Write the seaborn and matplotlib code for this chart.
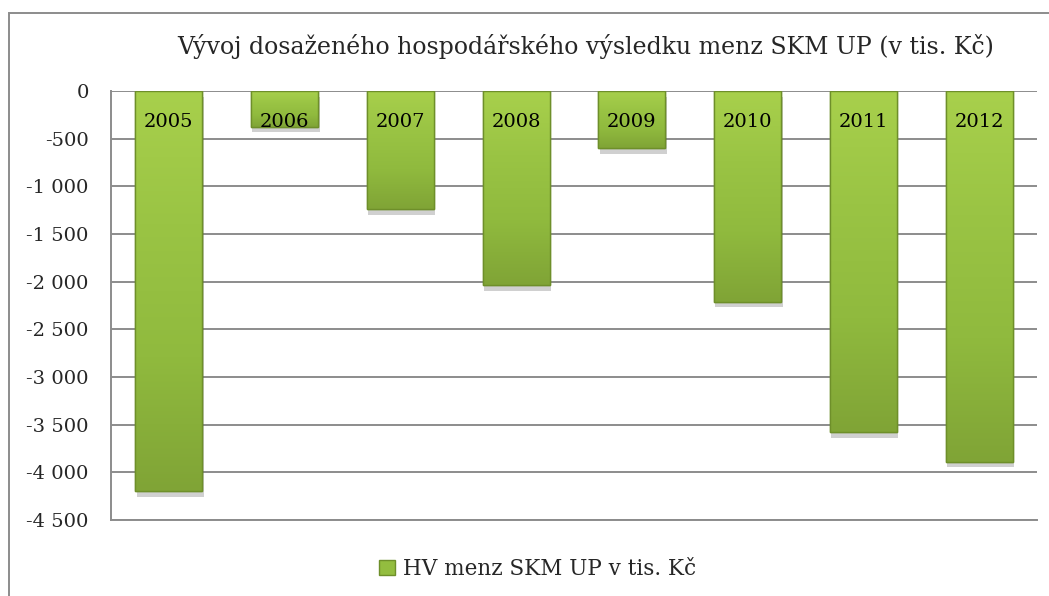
import numpy as np
import pandas as pd
import matplotlib
matplotlib.use('Agg')
import matplotlib.pyplot as plt
import matplotlib.patheffects as pe
from matplotlib.patches import Rectangle, Patch
from matplotlib.colors import LinearSegmentedColormap
from matplotlib.ticker import FuncFormatter
import seaborn as sns

years = ['2005', '2006', '2007', '2008', '2009', '2010', '2011', '2012']
hv = [-4200, -375, -1240, -2040, -600, -2210, -3580, -3890]
title = 'Vývoj dosaženého hospodářského výsledku menz SKM UP (v tis. Kč)'
series_name = 'HV menz SKM UP v tis. Kč'

df = pd.DataFrame({'rok': years, 'hv': hv})

sns.set_style('white')
FONT = ['DejaVu Serif']
plt.rcParams['font.family'] = FONT
plt.rcParams['font.serif'] = ['DejaVu Serif']

fig = plt.figure(figsize=(10.49, 5.96), dpi=100)
ax = fig.add_axes([0.1058, 0.1275, 0.8828, 0.7198])

bar_color = '#93bd3f'
edge = '#6e8f2a'
sns.barplot(data=df, x='rok', y='hv', color=bar_color, width=0.58,
            edgecolor=edge, linewidth=1.0, saturation=1, ax=ax, zorder=3)

# gradient fill + soft shadow for each bar
cmap = LinearSegmentedColormap.from_list('g', ['#80a436', '#90ba3e', '#9ac444', '#a8d04c'])
grad = np.linspace(0, 1, 256).reshape(-1, 1)
for p in list(ax.patches):
    p.set_path_effects([pe.withSimplePatchShadow(offset=(1, -4), shadow_rgbFace='#444444', alpha=0.25)])
    x0, y0 = p.get_x(), p.get_y()
    w, h = p.get_width(), p.get_height()
    im = ax.imshow(grad, cmap=cmap, aspect='auto', origin='lower',
                   extent=(x0, x0 + w, min(y0, y0 + h), max(y0, y0 + h)), zorder=3.5)
    im.set_clip_path(p)
    ax.add_patch(Rectangle((x0, y0), w, h, fill=False, edgecolor=edge, linewidth=1.0, zorder=3.6))
ax.set_ylim(-4500, 0)
ax.set_xlim(-0.5, len(years) - 0.5)

# year labels inside the bars
for i, y in enumerate(years):
    ax.annotate(y, (i, 0), xytext=(0, -22), textcoords='offset points',
                ha='center', va='center', fontsize=14, color='black', zorder=5, family=FONT)

ax.set_yticks(np.arange(-4500, 1, 500))
ax.yaxis.set_major_formatter(FuncFormatter(lambda v, _: f'{int(v):,}'.replace(',', ' ')))
ax.tick_params(axis='y', labelsize=14, length=0, pad=16)
for t in ax.get_yticklabels():
    t.set_family(FONT)
ax.set_xticks([])
ax.set_xlabel('')
ax.set_ylabel('')
ax.grid(axis='y', color='#8c8c8c', linewidth=1.4, zorder=0)
ax.set_axisbelow(True)
for s in ['top', 'right']:
    ax.spines[s].set_visible(False)
for s in ['left', 'bottom']:
    ax.spines[s].set_color('#8c8c8c')
    ax.spines[s].set_linewidth(1.4)

fig.text(0.558, 0.922, title, ha='center', va='center', fontsize=17, family=FONT)

# chart frame
fig.patches.append(Rectangle((9 / 1049, -0.1), 1.2, 1 - 13 / 596 + 0.1, transform=fig.transFigure,
                             fill=False, edgecolor='#8c8c8c', linewidth=1.4))

ax.legend(handles=[Patch(facecolor=bar_color, edgecolor=edge, label=series_name)],
          loc='center', bbox_to_anchor=(0.461, -0.115), frameon=False,
          prop={'family': FONT, 'size': 15.5},
          handlelength=0.7, handleheight=0.7, handletextpad=0.4)

fig.savefig('out.png', dpi=100)
